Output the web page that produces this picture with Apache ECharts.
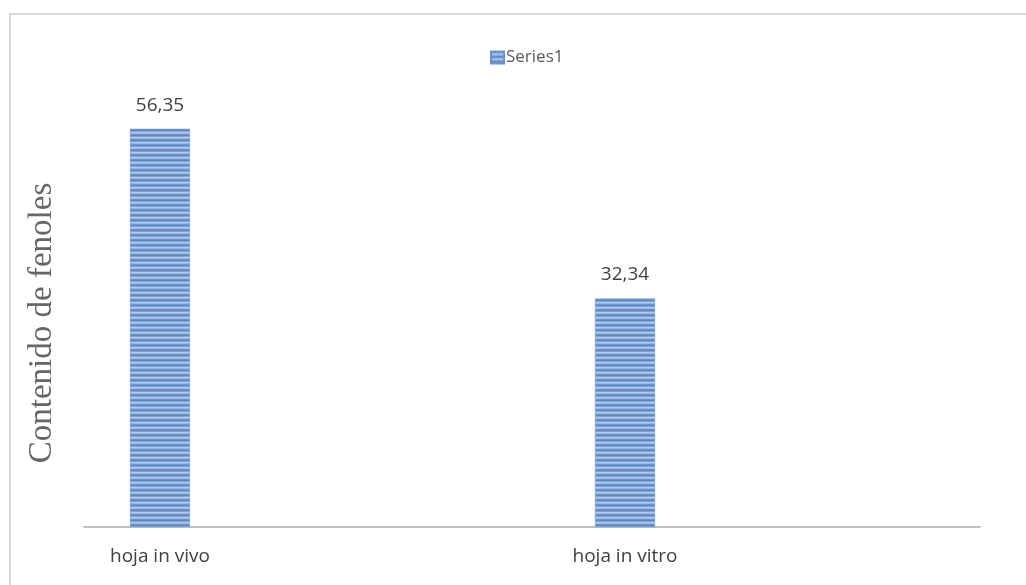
<!DOCTYPE html>
<html>
<head>
<meta charset="utf-8">
<script src="https://cdn.jsdelivr.net/npm/echarts@6/dist/echarts.min.js"></script>
<style>
html,body{margin:0;padding:0;background:#fff;}
#chart{width:1026px;height:585px;}
</style>
</head>
<body>
<div id="chart"></div>
<script>
// Phenol content per leaf type
const categories = ['hoja in vivo', 'hoja in vitro'];
const seriesName = 'Series1';
const values = [56.35, 32.34];

const uiFont = '"Open Sans", "Noto Sans", sans-serif';

// Horizontal stripe fill for the bars
function stripePattern() {
  const c = document.createElement('canvas');
  c.width = 4; c.height = 5;
  const ctx = c.getContext('2d');
  const rows = ['#5b87c5', '#80a4d6', '#b3cbea', '#9bb7df', '#6c94cd'];
  rows.forEach((col, i) => { ctx.fillStyle = col; ctx.fillRect(0, i, 4, 1); });
  return { image: c, repeat: 'repeat' };
}
const fill = stripePattern();

const chart = echarts.init(document.getElementById('chart'));
chart.setOption({
  backgroundColor: '#ffffff',
  animation: false,
  legend: {
    data: [{ name: seriesName, icon: 'rect' }],
    top: 44,
    left: 485,
    itemWidth: 13,
    itemHeight: 12,
    itemGap: 4,
    textStyle: { fontFamily: uiFont, fontSize: 17, color: '#595959', padding: [0, 0, 0, -3] }
  },
  grid: { left: 84, right: 46, top: 103, bottom: 58 },
  xAxis: {
    type: 'value',
    min: -0.1634,
    max: 1.7634,
    axisLine: { show: true, lineStyle: { color: '#bfbfbf', width: 2 } },
    axisTick: { show: false },
    splitLine: { show: false },
    axisLabel: {
      customValues: [0, 1],
      formatter: v => categories[Math.round(v)],
      margin: 20,
      fontFamily: uiFont,
      fontSize: 19,
      color: '#404040'
    }
  },
  yAxis: {
    type: 'value',
    min: 0,
    max: 60,
    show: false
  },
  graphic: [
    {
      type: 'rect',
      silent: true,
      shape: { x: 10, y: 14, width: 1100, height: 700 },
      style: { fill: 'none', stroke: '#d9d9d9', lineWidth: 2 }
    },
    {
      type: 'text',
      x: 42,
      y: 323,
      rotation: Math.PI / 2,
      style: {
        text: 'Contenido de fenoles',
        font: '33px "Liberation Serif", "Times New Roman", serif',
        fill: '#666666',
        align: 'center',
        verticalAlign: 'middle'
      }
    }
  ],
  series: [{
    name: seriesName,
    type: 'bar',
    barWidth: 60,
    data: values.map((v, i) => [i, v]),
    itemStyle: { color: fill, borderColor: '#6a93cc', borderWidth: 0.5 },
    label: {
      show: true,
      position: 'top',
      distance: 14,
      formatter: p => p.value[1].toFixed(2).replace('.', ','),
      fontFamily: uiFont,
      fontSize: 19,
      color: '#404040'
    }
  }]
});
</script>
</body>
</html>
